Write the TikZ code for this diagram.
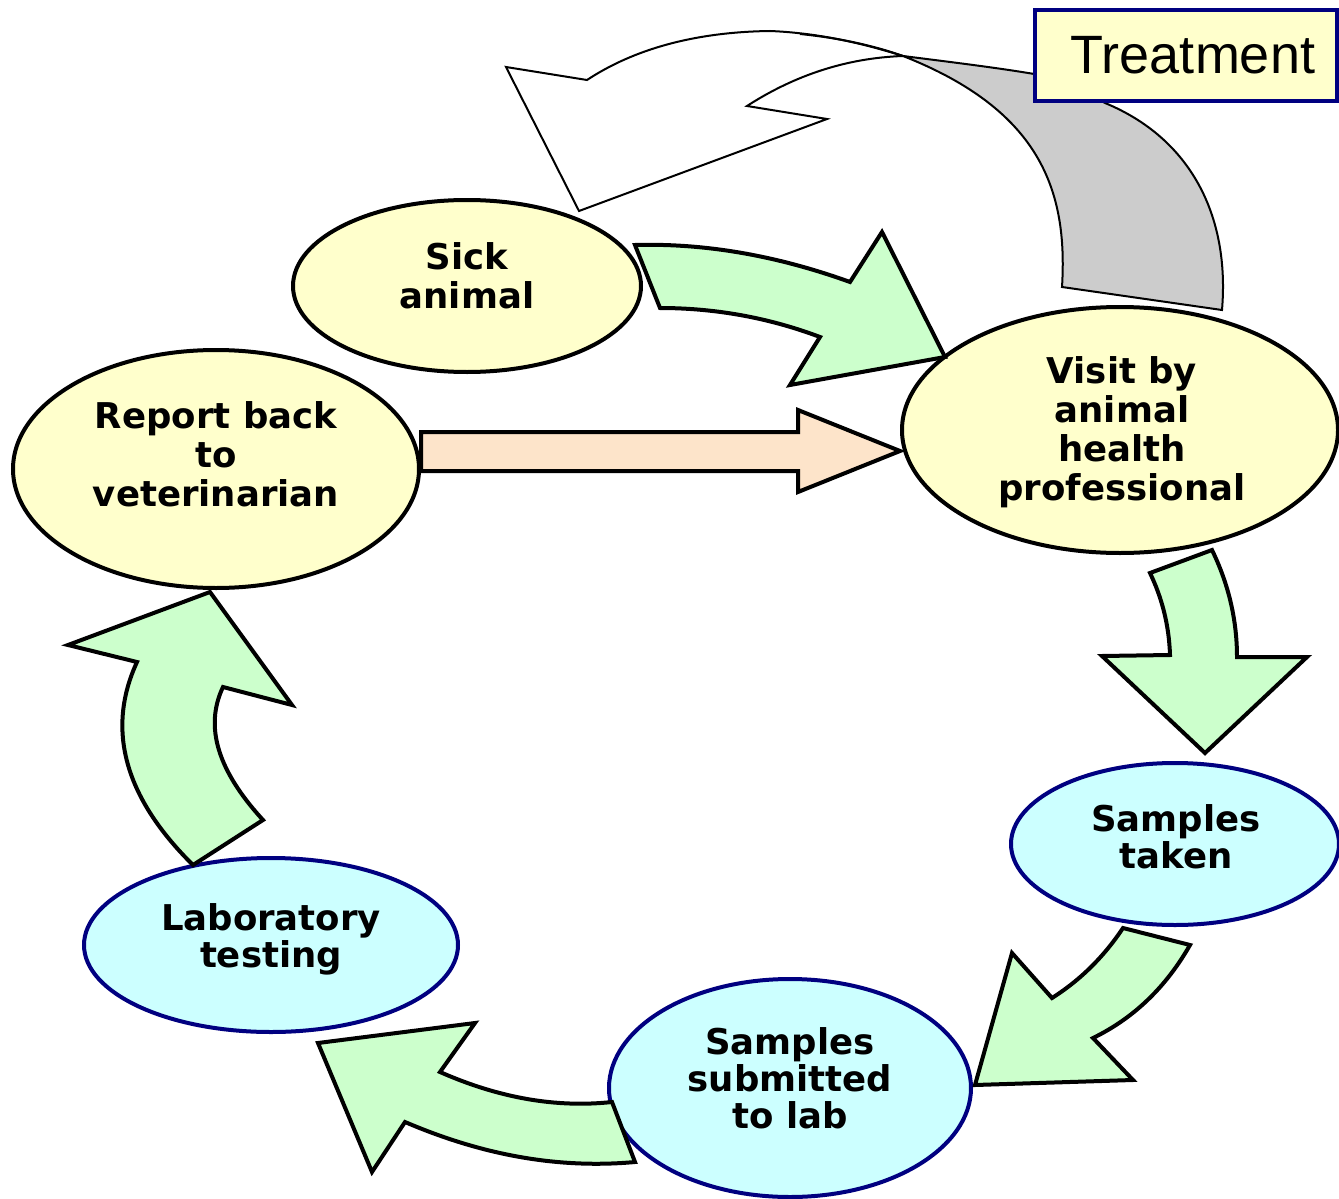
\documentclass[tikz,border=0pt]{standalone}
\usepackage{fontspec}
\setmainfont{DejaVu Sans}
\newfontfamily\trfont{Liberation Sans}
\usetikzlibrary{shapes.geometric}
\definecolor{yfill}{HTML}{FFFFCC}
\definecolor{cfill}{HTML}{CCFFFF}
\definecolor{gfill}{HTML}{CCFFCC}
\definecolor{navyc}{HTML}{000080}
\definecolor{grayc}{HTML}{CCCCCC}
\definecolor{peach}{HTML}{FDE4CA}
\begin{document}
\begin{tikzpicture}[x=1pt,y=-1pt,
  ybub/.style={ellipse,draw=black,line width=4pt,fill=yfill,inner sep=0pt},
  cbub/.style={ellipse,draw=navyc,line width=4pt,fill=cfill,inner sep=0pt},
  garrow/.style={draw=black,line width=4pt,fill=gfill,line join=miter},
  thinarrow/.style={draw=black,line width=2pt,line join=miter},
  lbl/.style={font=\fontsize{35.5}{39}\selectfont\bfseries,align=center,inner sep=0pt},
  lblc/.style={font=\fontsize{35.5}{37}\selectfont\bfseries,align=center,inner sep=0pt}]
\useasboundingbox (0,0) rectangle (1339,1199);
\clip (0,0) rectangle (1339,1199);
\fill[white] (0,0) rectangle (1339,1199);

% treatment return arrow: grey back side
\path[thinarrow,fill=grayc] (903,56) .. controls (950,62) and (1000,68) .. (1040,75)
  -- (1100,100) -- (1105,103) .. controls (1190,138) and (1230,215) .. (1222,310)
  -- (1062,287) .. controls (1068,190) and (1040,110) .. (903,56) -- cycle;
% white front face
\path[thinarrow,fill=white] (506,67) -- (587,80) .. controls (634,49) and (695,32) .. (770,31)
  .. controls (820,33) and (865,44) .. (903,56)
  .. controls (847,58) and (795,75) .. (747,106) -- (827,119) -- (579,211) -- cycle;
\draw[line width=2pt] (800,34) .. controls (840,38) and (875,46) .. (903,56);

% bubbles
\node[ybub,minimum width=348pt,minimum height=172pt] (sick) at (467,286) {};
\node[ybub,minimum width=436pt,minimum height=246pt] (visit) at (1120,430) {};
\node[ybub,minimum width=406pt,minimum height=238pt] (report) at (216,469) {};
\node[cbub,minimum width=328pt,minimum height=162pt] (taken) at (1175,844) {};
\node[cbub,minimum width=362pt,minimum height=218pt] (submit) at (790,1088) {};
\node[cbub,minimum width=374pt,minimum height=174pt] (lab) at (271,945) {};

\node[lbl] (tsick) at (467,275.5) {Sick\\animal};
\node[lbl] (tvisit) at (1122,432.5) {Visit by\\animal\\health\\professional};
\node[lbl] (treport) at (216,454) {Report back\\to\\veterinarian};
\node[lblc] (ttaken) at (1176,837) {Samples\\taken};
\node[lblc] (tsubmit) at (790,1078.5) {Samples\\submitted\\to lab};
\node[lblc] (tlab) at (271,939) {Laboratory\\testing};

% green cycle arrows
\path[garrow] (635,245) .. controls (706,243) and (778,256) .. (850,282) -- (882,232)
  -- (945,357) -- (790,385) -- (820,337) .. controls (767,317) and (713,308) .. (660,308) -- cycle;
\path[garrow] (1212,550) -- (1150,573) .. controls (1162,598) and (1169,625) .. (1170,655)
  -- (1102,656) -- (1205,753) -- (1307,657) -- (1237,657)
  .. controls (1237,621) and (1229,585) .. (1212,550) -- cycle;
\path[garrow] (1123,928) -- (1190,945) .. controls (1166,987) and (1134,1018) .. (1093,1038)
  -- (1133,1080) -- (975,1085) -- (1012,953) -- (1052,998)
  .. controls (1082,979) and (1105,955) .. (1123,928) -- cycle;
\path[garrow] (612,1102) .. controls (556,1108) and (499,1098) .. (440,1072) -- (475,1023)
  -- (318,1043) -- (372,1172) -- (405,1122) .. controls (482,1155) and (558,1169) .. (635,1162) -- cycle;
\path[garrow] (193,865) .. controls (124,797) and (106,729) .. (137,662) -- (68,645)
  -- (210,592) -- (292,705) -- (223,687) .. controls (204,727) and (218,771) .. (263,820) -- cycle;

% report back arrow
\path[draw=black,line width=4pt,fill=peach,line join=miter]
  (report.east |- 0,432) -- (798,432) -- (798,410) -- (visit.west |- 0,451) -- (798,492)
  -- (798,471) -- (report.east |- 0,471) -- cycle;

% treatment label
\node[draw=navyc,line width=4pt,fill=yfill,minimum width=302pt,minimum height=91pt,
  inner sep=0pt,font=\trfont\fontsize{54}{58}\selectfont] (treat) at (1186,55.5) {\hspace{14pt}Treatment};
\end{tikzpicture}
\end{document}
